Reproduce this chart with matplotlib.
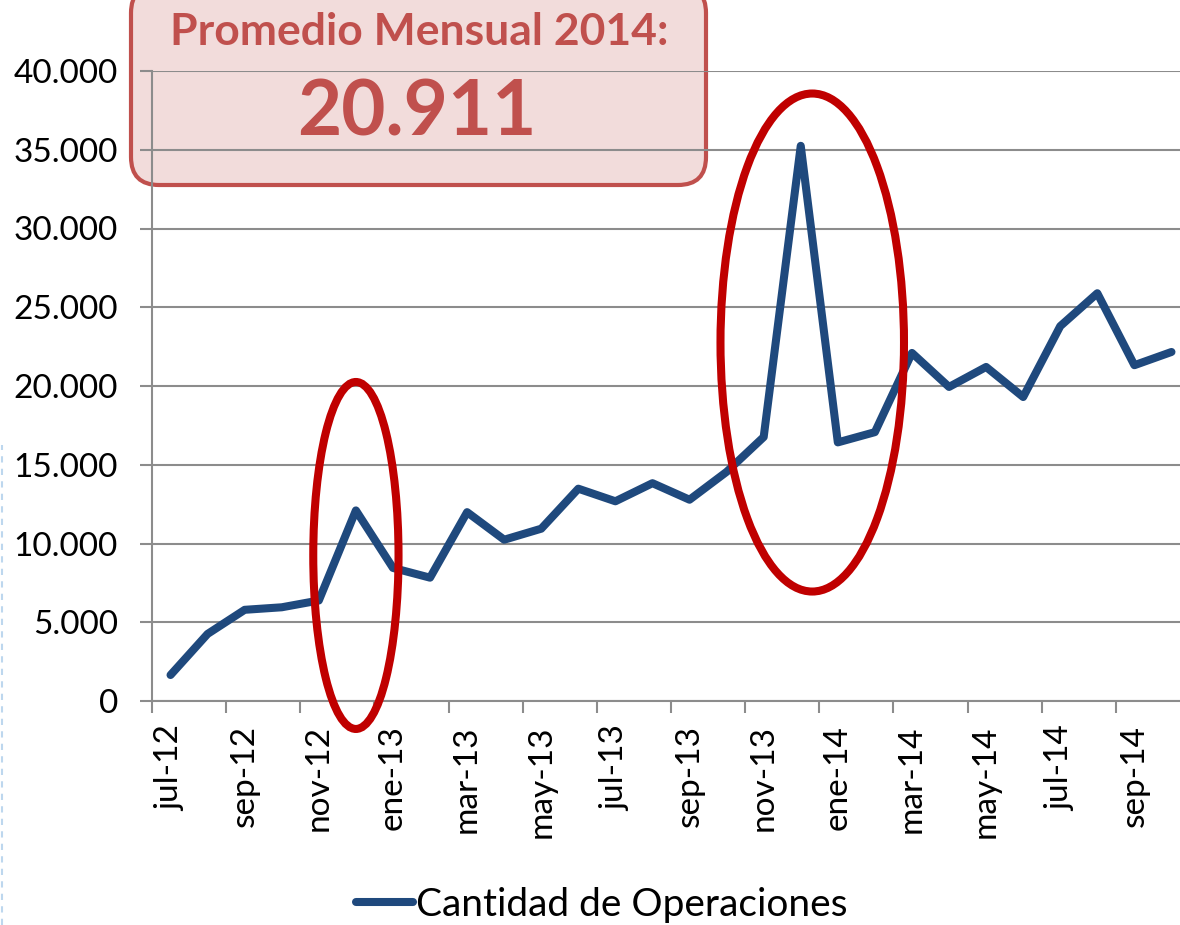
import matplotlib
matplotlib.use("Agg")
import matplotlib.pyplot as plt
from matplotlib.patches import FancyBboxPatch, Ellipse
from matplotlib.lines import Line2D

plt.rcParams['font.family'] = ['Lato', 'DejaVu Sans']

# ---- data ----
months = ["jul-12", "ago-12", "sep-12", "oct-12", "nov-12", "dic-12",
          "ene-13", "feb-13", "mar-13", "abr-13", "may-13", "jun-13",
          "jul-13", "ago-13", "sep-13", "oct-13", "nov-13", "dic-13",
          "ene-14", "feb-14", "mar-14", "abr-14", "may-14", "jun-14",
          "jul-14", "ago-14", "sep-14", "oct-14"]
operaciones = [1650, 4260, 5790, 5950, 6380, 12100,
               8450, 7830, 11990, 10240, 10940, 13480,
               12680, 13830, 12780, 14550, 16760, 35250,
               16420, 17070, 22100, 19940, 21210, 19300,
               23800, 25890, 21320, 22160]
series_name = "Cantidad de Operaciones"
y_ticks = [0, 5000, 10000, 15000, 20000, 25000, 30000, 35000, 40000]
y_labels = ["0", "5.000", "10.000", "15.000", "20.000", "25.000",
            "30.000", "35.000", "40.000"]
box_title = "Promedio Mensual 2014:"
box_value = "20.911"

# ---- figure ----
W, H = 1180, 925
fig = plt.figure(figsize=(W / 100, H / 100), dpi=100)
ax = fig.add_axes([152 / W, (H - 701) / H, (1190 - 152) / W, (701 - 71) / H])
ax.set_facecolor('none')

x = list(range(len(months)))
line_color = '#1F497D'
ax.plot(x, operaciones, color=line_color, lw=5.8, solid_joinstyle='round',
        solid_capstyle='round', zorder=3, label=series_name)

ax.set_xlim(-0.5, len(months) - 0.5)
ax.set_ylim(0, 40000)

grid_c = '#8C8C8C'
ax.set_yticks(y_ticks)
ax.set_yticklabels(y_labels)
ax.yaxis.grid(True, color=grid_c, lw=1.5, zorder=0)
ax.set_axisbelow(True)

# category boundaries every 2 months as major ticks, labels on minor ticks
ax.set_xticks([i - 0.5 for i in range(0, len(months) + 1, 2)])
ax.set_xticklabels([])
ax.set_xticks(x[::2], minor=True)
ax.set_xticklabels(months[::2], minor=True, rotation=90, fontsize=24)
ax.tick_params(axis='x', which='major', length=8.5, width=1.5, color=grid_c,
               direction='out')
ax.tick_params(axis='x', which='minor', length=0, pad=17.5)
ax.tick_params(axis='y', length=8.5, width=1.5, color=grid_c, pad=16,
               labelsize=24, direction='out')

for s in ['top', 'right']:
    ax.spines[s].set_visible(False)
for s in ['left', 'bottom']:
    ax.spines[s].set_color(grid_c)
    ax.spines[s].set_linewidth(1.5)

# red ellipses highlighting peaks
ell_c = '#C00000'
ax.add_patch(Ellipse((5.0, 9240), 2.3, 22030, fill=False, ec=ell_c, lw=5.8,
                     clip_on=False, zorder=4))
ax.add_patch(Ellipse((17.31, 22760), 4.95, 31620, fill=False, ec=ell_c, lw=5.8,
                     clip_on=False, zorder=4))

# legend
leg = fig.legend(loc='center', bbox_to_anchor=(602 / W, 1 - 905 / H),
                 frameon=False, fontsize=28, handlelength=1.45,
                 handletextpad=0.08, borderpad=0)
for h in leg.get_lines():
    h.set_linewidth(5.8)
    h.set_solid_capstyle('round')

# average box (behind the transparent axes so the grid shows through)
box = FancyBboxPatch((1.31, (H - 185) / 100), 5.75, 2.0,
                     boxstyle="round,pad=0,rounding_size=0.28",
                     transform=fig.dpi_scale_trans, fc='#F2DCDB', ec='#C0504D',
                     lw=3, zorder=-1)
fig.add_artist(box)
red_txt = '#C0504D'
fig.text(419 / W, 1 - 45 / H, box_title, ha='center', va='baseline',
         fontsize=32, fontweight='bold', color=red_txt)
fig.text(417 / W, 1 - 136 / H, box_value, ha='center', va='baseline',
         fontsize=55, fontweight='bold', color=red_txt)

# faint dashed border on the left edge of the screenshot
fig.add_artist(Line2D([1.5 / W, 1.5 / W], [0, 1 - 445 / H],
                      transform=fig.transFigure, color='#BDD7EE', lw=1.5,
                      ls=(0, (3, 3))))

fig.savefig('out.png', dpi=100)
